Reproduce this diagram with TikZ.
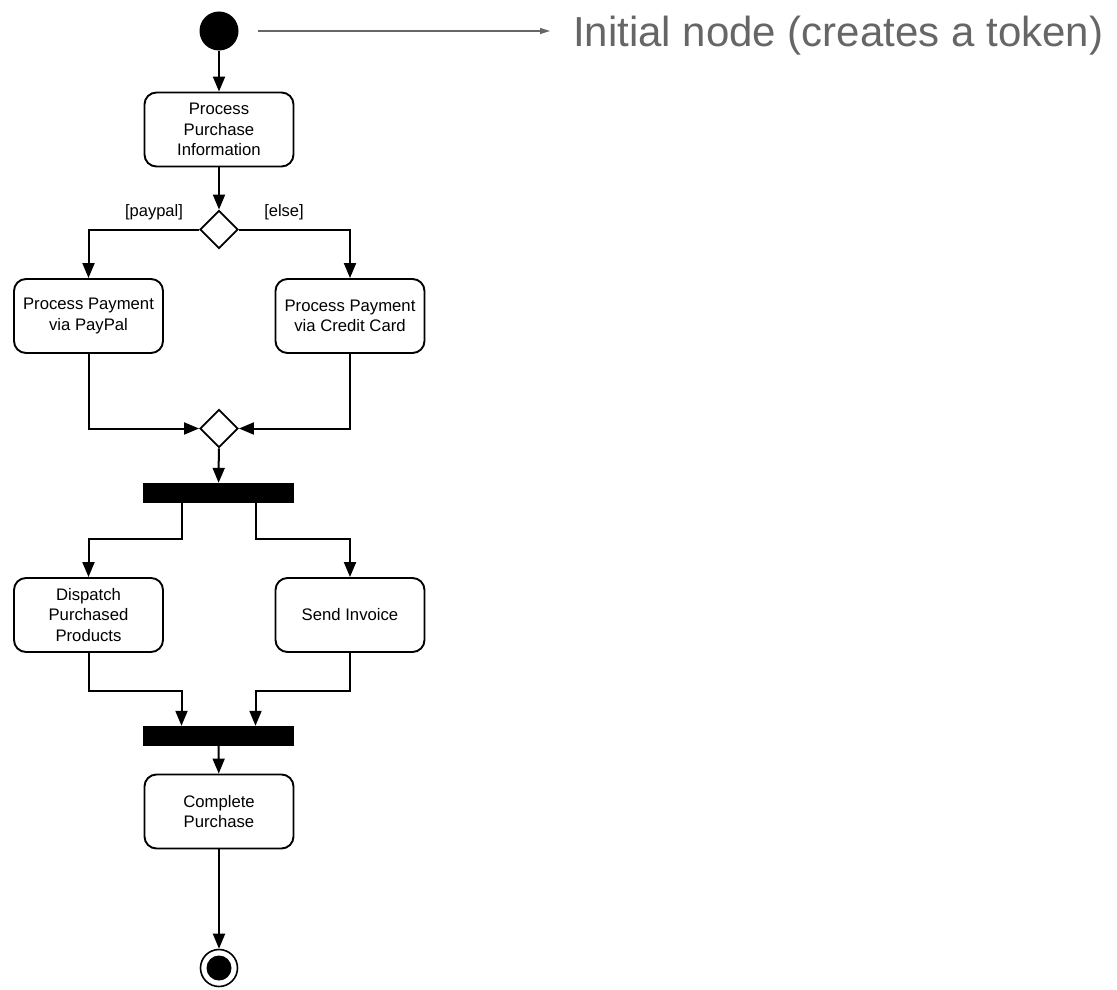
\documentclass[tikz,border=0pt]{standalone}
\usepackage{fontspec}
\setmainfont{Liberation Sans}
\usetikzlibrary{arrows.meta,shapes.geometric,calc}
\definecolor{notegray}{HTML}{666666}
\begin{document}
\begin{tikzpicture}[x=1pt,y=-1pt,
  act/.style={draw,line width=1.9pt,rounded corners=12pt,minimum width=149pt,
    minimum height=74pt,align=center,inner sep=0pt,
    font=\fontsize{16.7}{20.5}\selectfont},
  choice/.style={draw,diamond,aspect=1,line width=1.9pt,minimum width=38pt,
    minimum height=38pt,inner sep=0pt},
  bar/.style={fill=black,minimum width=151pt,minimum height=20pt,inner sep=0pt},
  flow/.style={line width=2pt,-{Triangle[length=15pt,width=12pt]}},
  guard/.style={font=\fontsize{16.5}{20}\selectfont},
  note/.style={draw=notegray,line width=1.4pt,-{Triangle[length=10pt,width=6pt]}}]
\useasboundingbox (0,0) rectangle (1117,990);

% initial node and its annotation
\node[circle,fill=black,minimum size=39pt,inner sep=0pt] (init) at (219,31) {};
\node[anchor=base west,inner sep=0pt,text=notegray,font=\fontsize{42}{50}\selectfont]
  (note) at (573,47) {Initial node (creates a token)};
\draw[note] ([xshift=19pt]init.east) -- ($(init.east -| note.west)+(-23,0)$);

% actions and control nodes
\node[act] (ppi) at (219,129.5) {Process\\Purchase\\Information};
\node[choice] (dec) at (219,229.5) {};
\node[act] (pp) at (88.5,316) {Process Payment\\via PayPal};
\node[act] (cc) at (350,316) {Process Payment\\via Credit Card};
\node[choice] (merge) at (219,428.5) {};
\node[bar] (fork) at (218.5,493) {};
\node[act] (disp) at (88.5,615) {Dispatch\\Purchased\\Products};
\node[act] (inv) at (350,615) {Send Invoice};
\node[bar] (join) at (218.5,736) {};
\node[act] (cp) at (219,811.5) {Complete\\Purchase};
\node[circle,draw,line width=1.6pt,minimum size=37pt,inner sep=0pt] (final) at (219,968) {};
\fill (final.center) circle (12.5pt);

% guards
\node[guard] (gpay) at (154,212) {[paypal]};
\node[guard] (gelse) at (284,212) {[else]};

% control flows
\draw[flow] (init) -- (ppi);
\draw[flow] (ppi) -- (dec);
\draw[flow] (dec.west) -| (pp.north);
\draw[flow] (dec.east) -| (cc.north);
\draw[flow] (pp.south) |- (merge.west);
\draw[flow] (cc.south) |- (merge.east);
\draw[flow] (merge) -- (fork);
\draw[flow] ([xshift=-37pt]fork.south) -- ++(0,36) -| (disp.north);
\draw[flow] ([xshift=37pt]fork.south) -- ++(0,36) -| (inv.north);
\draw[flow] (disp.south) -- ++(0,38) -| ([xshift=-37pt]join.north);
\draw[flow] (inv.south) -- ++(0,38) -| ([xshift=37pt]join.north);
\draw[flow] (join) -- (cp);
\draw[flow] (cp) -- (final);
\end{tikzpicture}
\end{document}
